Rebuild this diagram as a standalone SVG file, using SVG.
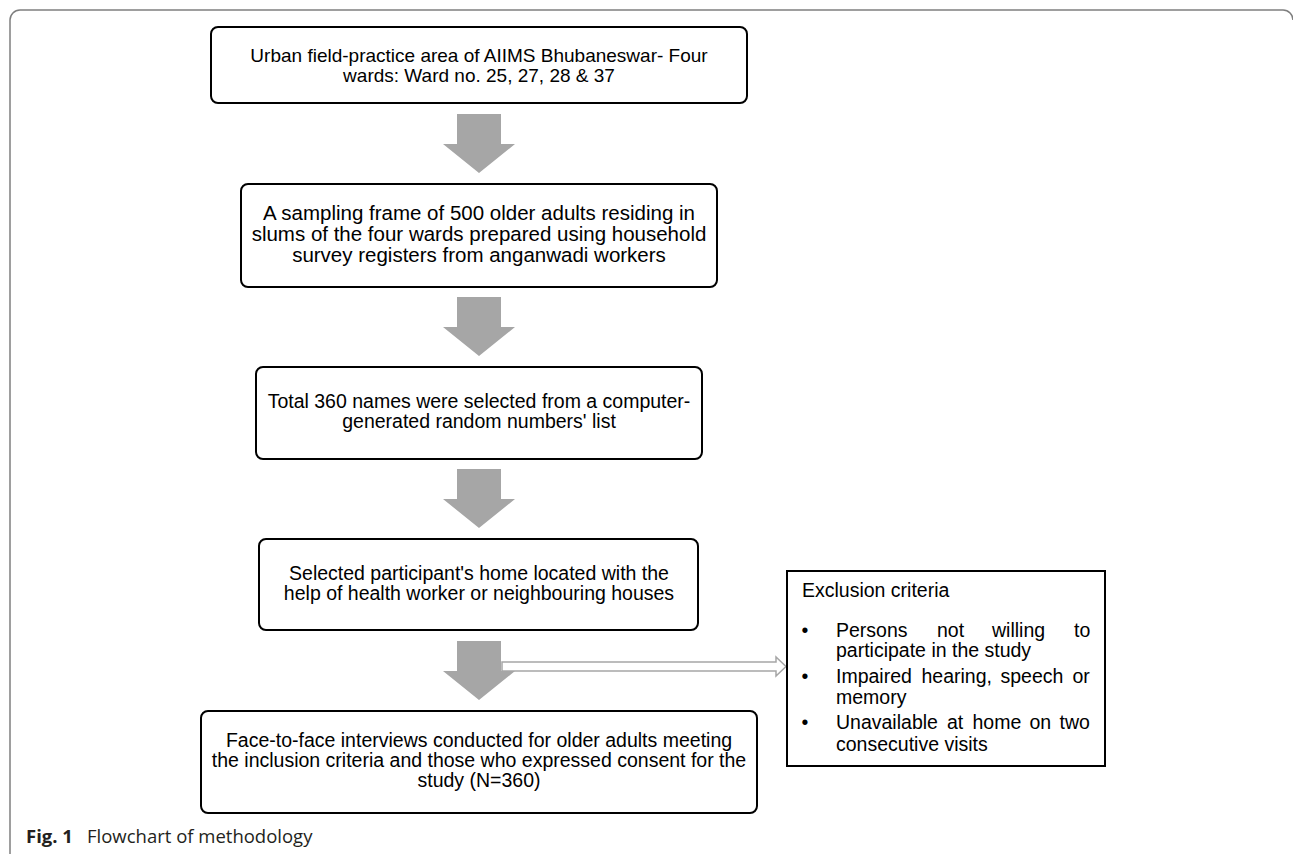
<svg xmlns="http://www.w3.org/2000/svg" width="1293" height="854" viewBox="0 0 1293 854">
<style>
  .box { fill: #ffffff; stroke: #000000; stroke-width: 2; }
  .t { font-family: "Liberation Sans", Arial, sans-serif; font-size: 19.5px; fill: #000000; }
  .c { text-anchor: middle; }
  .blk { fill: #a6a6a6; stroke: none; }
  .hollow { fill: #ffffff; stroke: #a6a6a6; stroke-width: 1.5; }
  .frame { fill: none; stroke: #7f7f7f; stroke-width: 1.5; }
  .cap { font-family: "Open Sans", "Noto Sans", sans-serif; font-size: 18.5px; fill: #231f20; }
</style>
<rect width="1293" height="854" fill="#ffffff"/>
<path class="frame" d="M10,854 V20 A10,10 0 0 1 20,10 H1283 A10,10 0 0 1 1293,20"/>

<g id="connectors">
  <path class="hollow" d="M502,662 H776 V657 L786,666.5 L776,676 V671 H502 Z"/>
  <path class="blk" d="M457,114 H501 V144 H515 L479,173 L443,144 H457 Z"/>
  <path class="blk" d="M457,297 H501 V327 H515 L479,356 L443,327 H457 Z"/>
  <path class="blk" d="M457,469 H501 V499 H515 L479,528 L443,499 H457 Z"/>
  <path class="blk" d="M457,641 H501 V671 H515 L479,700 L443,671 H457 Z"/>
</g>

<g id="n1">
  <rect class="box" x="211" y="27" width="536" height="76" rx="7"/>
  <text class="t c" x="479" y="62" style="font-size:19px">Urban field-practice area of AIIMS Bhubaneswar- Four</text>
  <text class="t c" x="479" y="82" style="font-size:19px">wards: Ward no. 25, 27, 28 &amp; 37</text>
</g>

<g id="n2">
  <rect class="box" x="241" y="184" width="476" height="103" rx="7"/>
  <text class="t c" x="479" y="220" style="font-size:20.5px">A sampling frame of 500 older adults residing in</text>
  <text class="t c" x="479" y="241" style="font-size:20.5px">slums of the four wards prepared using household</text>
  <text class="t c" x="479" y="262" style="font-size:20.5px">survey registers from anganwadi workers</text>
</g>

<g id="n3">
  <rect class="box" x="256" y="367" width="446" height="92" rx="7"/>
  <text class="t c" x="479" y="408">Total 360 names were selected from a computer-</text>
  <text class="t c" x="479" y="428">generated random numbers' list</text>
</g>

<g id="n4">
  <rect class="box" x="259" y="539" width="439" height="91" rx="7"/>
  <text class="t c" x="479" y="580">Selected participant's home located with the</text>
  <text class="t c" x="479" y="600">help of health worker or neighbouring houses</text>
</g>

<g id="n5">
  <rect class="box" x="201" y="711" width="556" height="102" rx="7"/>
  <text class="t c" x="479" y="747">Face-to-face interviews conducted for older adults meeting</text>
  <text class="t c" x="479" y="767">the inclusion criteria and those who expressed consent for the</text>
  <text class="t c" x="479" y="787">study (N=360)</text>
</g>

<g id="n6">
  <rect class="box" x="787" y="571" width="318" height="195" rx="0"/>
  <text class="t" x="802" y="597">Exclusion criteria</text>
  <text class="t c" x="805" y="637">•</text>
  <text class="t c" x="805" y="683">•</text>
  <text class="t c" x="805" y="729">•</text>
  <text class="t" y="637"><tspan x="836">Persons</tspan><tspan x="937">not</tspan><tspan x="992">willing</tspan><tspan x="1074">to</tspan></text>
  <text class="t" x="836" y="657">participate in the study</text>
  <text class="t" y="683"><tspan x="836">Impaired</tspan><tspan x="921.5">hearing,</tspan><tspan x="1000.5">speech</tspan><tspan x="1072.5">or</tspan></text>
  <text class="t" x="836" y="704">memory</text>
  <text class="t" y="729"><tspan x="836">Unavailable</tspan><tspan x="947">at</tspan><tspan x="972.5">home</tspan><tspan x="1029.5">on</tspan><tspan x="1059.5">two</tspan></text>
  <text class="t" x="836" y="751">consecutive visits</text>
</g>

<g id="caption">
  <text class="cap" x="26" y="843"><tspan font-weight="bold">Fig. 1</tspan><tspan x="87">Flowchart of methodology</tspan></text>
</g>
</svg>
